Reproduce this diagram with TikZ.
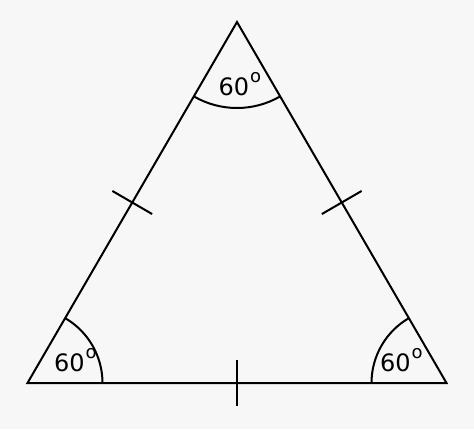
\documentclass[tikz,border=0pt]{standalone}
\usepackage{fontspec}
\setmainfont{DejaVu Sans}
\usetikzlibrary{calc}
\newcommand{\dego}{\raisebox{13pt}{\fontsize{18}{18}\selectfont o}}
\begin{document}
\begin{tikzpicture}[x=1pt,y=-1pt,
  edge/.style={line width=2pt,line join=miter},
  tick/.style={line width=2pt},
  arcline/.style={line width=2pt},
  lbl/.style={font=\fontsize{24}{26}\selectfont,anchor=base west,inner sep=0pt}]
\fill[white!97!black] (0,0) rectangle (474,429);
\useasboundingbox (0,0) rectangle (474,429);
\coordinate (A) at (27.5,383);
\coordinate (B) at (446.5,383);
\coordinate (C) at (237,22);
\draw[edge] (A) -- (B) -- (C) -- cycle;
% ticks
\coordinate (mAB) at ($(A)!0.5!(B)$);
\draw[tick] ($(mAB)+(0,-23)$) -- ($(mAB)+(0,23)$);
\coordinate (mAC) at ($(A)!0.5!(C)$);
\draw[tick] ($(mAC)!23pt!90:(C)$) -- ($(mAC)!23pt!-90:(C)$);
\coordinate (mBC) at ($(B)!0.5!(C)$);
\draw[tick] ($(mBC)!23pt!90:(C)$) -- ($(mBC)!23pt!-90:(C)$);
% arcs
\draw[arcline] ($(A)+(75,0)$) arc[start angle=0,end angle=-60,radius=75];
\draw[arcline] ($(B)+(-75,0)$) arc[start angle=180,end angle=240,radius=75];
\draw[arcline] ($(C)+({86*cos(60)},{86*sin(60)})$) arc[start angle=60,end angle=120,radius=86];
\node[lbl] (tl) at (218.5,95) {60\kern1pt\dego};
\node[lbl] (ll) at (54,371) {60\kern1pt\dego};
\node[lbl] (rl) at (380,371) {60\kern1pt\dego};
\end{tikzpicture}
\end{document}
